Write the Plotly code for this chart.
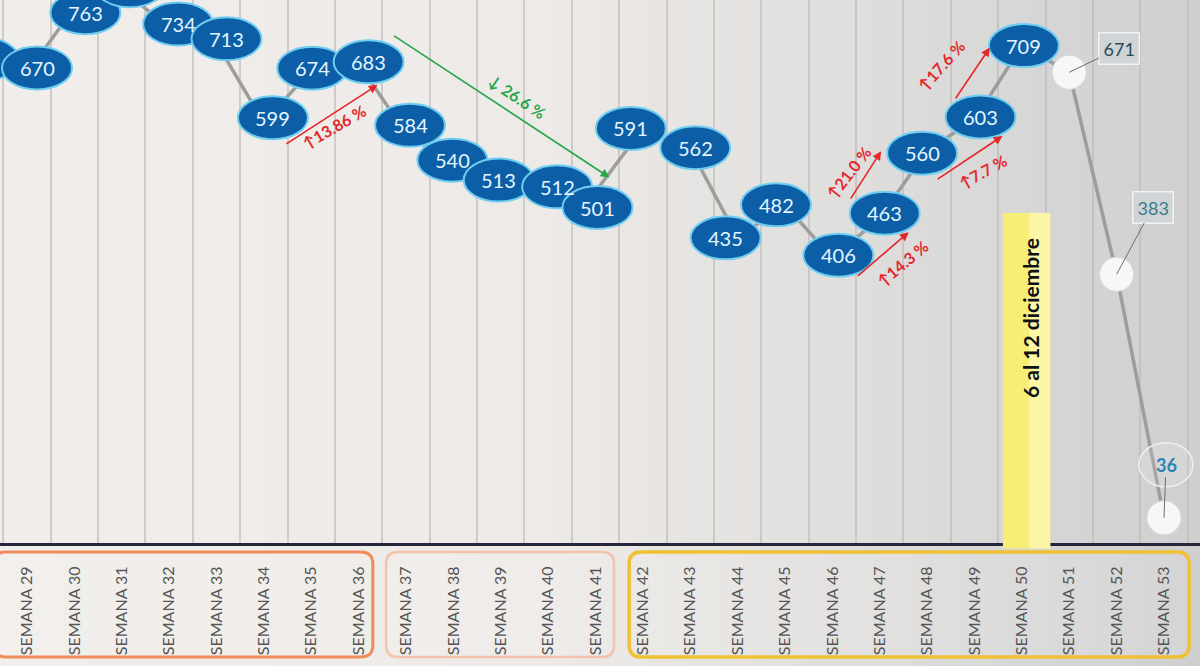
import plotly.graph_objects as go

# ---------------- DATA ----------------
week_numbers = [28, 29, 30, 31, 32, 33, 34, 35, 36, 37, 38, 39, 40,
                41, 42, 43, 44, 45, 46, 47, 48, 49, 50, 51, 52, 53]
week_labels = ["SEMANA %d" % n for n in week_numbers]
values = [684, 670, 763, 790, 734, 713, 599, 674, 683, 584, 540, 513, 512,
          501, 591, 562, 435, 482, 406, 463, 560, 603, 709, 671, 383, 36]

highlight_weeks = [51, 52, 53]          # white markers with boxed labels

arrow_from = [34, 36, 46, 47, 48, 49]
arrow_to = [36, 41, 47, 48, 49, 50]
arrow_text = ["13.86 %", "26.6 %", "14.3 %", "21.0 %", "7.7 %", "17.6 %"]

groups = [(29, 36), (37, 41), (42, 53)]   # boxed groups of tick labels
period_week = 50
period_text = "6 al 12 diciembre"

# ---------------- LAYOUT CONSTANTS ----------------
W, H = 1200, 666
MT, MB = 0, 123
PH = H - MT - MB
X0, X1 = 0.43, 25.76
Y0, Y1 = 0, 774
sx = W / (X1 - X0)
sy = PH / (Y1 - Y0)


def px(i):
    return (i - X0) * sx


def py(v):
    return PH - (v - Y0) * sy


idx = {w: k for k, w in enumerate(week_numbers)}
val = {w: v for w, v in zip(week_numbers, values)}

# label bubble offsets (pixels, dx right, dy down)
BUBBLE_OFFSETS = {
    28: (4, -4), 29: (10, -5), 30: (11, 5), 31: (8, -3), 32: (9, -4),
    33: (10, -4), 34: (9, -5), 35: (1, -2), 36: (10, -2), 37: (4, -8),
    38: (-1, -4), 39: (-2, -3), 40: (9, 3), 41: (2, 16), 42: (-12, 0),
    43: (5, -1), 44: (-12, 0), 45: (-9, 0), 46: (6, -3), 47: (5, -5),
    48: (-5, 3), 49: (6, -3), 50: (2, 0),
}
BUBBLE_W, BUBBLE_H = 70, 43

# arrow styling: tail offset (dx, dy down), head offset (dx, dy down),
# text shift (xshift, yshift up), text angle
ARROW_STYLE = {
    (34, 36): dict(tail=(21, 22), head=(19, 21), tshift=(23, -33), angle=-30),
    (36, 41): dict(tail=(34, -29), head=(14, -14), tshift=(40, 31), angle=34),
    (46, 47): dict(tail=(24, 19), head=(29, 14), tshift=(46, -25), angle=-40),
    (47, 48): dict(tail=(-30, -18), head=(-46, 1), tshift=(-55, 12), angle=-52),
    (48, 49): dict(tail=(9, 30), head=(28, 16), tshift=(32, -36), angle=-29),
    (49, 50): dict(tail=(-20, -20), head=(-32, 2), tshift=(-57, 17), angle=-48),
}

HL_LABEL = {
    51: dict(ax=50, ay=-24, color="#2d4955", box=True),
    52: dict(ax=36, ay=-67, color="#3c7b8c", box=True),
    53: dict(ax=2, ay=-53, color="#2a86b8", box=False),
}

GROUP_STYLE = [
    dict(pad_l=0.7, pad_r=0.30, line="#ef8d5a", width=3),
    dict(pad_l=0.42, pad_r=0.39, line="#f3c4ab", width=2.5),
    dict(pad_l=0.29, pad_r=0.53, line="#efc133", width=3.5),
]

FONT = "Lato, 'Open Sans', Arial, sans-serif"

fig = go.Figure()

# main line
fig.add_trace(go.Scatter(
    x=list(range(len(values))), y=values, mode="lines",
    line=dict(color="#9d9d9d", width=3.5), hoverinfo="skip", showlegend=False,
))

# white markers for last weeks
hl_idx = [idx[w] for w in highlight_weeks]
hl_val = [val[w] for w in highlight_weeks]
fig.add_trace(go.Scatter(
    x=hl_idx, y=hl_val, mode="markers",
    marker=dict(size=34, color="#f7f7f7", line=dict(color="#d9d9d9", width=1)),
    hoverinfo="skip", showlegend=False,
))

shapes = []

# background gradient
stops = [(0.0, (241, 237, 234)), (0.45, (237, 234, 231)), (0.65, (227, 225, 223)),
         (0.85, (215, 215, 215)), (1.0, (207, 207, 207))]


def grad(t):
    for (t0, c0), (t1, c1) in zip(stops[:-1], stops[1:]):
        if t0 <= t <= t1:
            f = (t - t0) / (t1 - t0)
            return "rgb(%d,%d,%d)" % tuple(round(a + (b - a) * f) for a, b in zip(c0, c1))
    return "rgb(%d,%d,%d)" % stops[-1][1]


N = 80
for k in range(N):
    shapes.append(dict(type="rect", xref="paper", yref="paper",
                       x0=k / N, x1=(k + 1) / N + 0.002, y0=-0.3, y1=1.05,
                       fillcolor=grad((k + 0.5) / N), line=dict(width=0), layer="below"))

# group boxes under tick labels (rounded)
ytop = -9 / PH
ybot = -114 / PH
rx = 12 / sx
ry = 12 / PH
for (g0, g1), st in zip(groups, GROUP_STYLE):
    xa = idx[g0] - st["pad_l"]
    xb = idx[g1] + st["pad_r"]
    path = (f"M {xa+rx},{ytop} L {xb-rx},{ytop} Q {xb},{ytop} {xb},{ytop-ry} "
            f"L {xb},{ybot+ry} Q {xb},{ybot} {xb-rx},{ybot} L {xa+rx},{ybot} "
            f"Q {xa},{ybot} {xa},{ybot+ry} L {xa},{ytop-ry} Q {xa},{ytop} {xa+rx},{ytop} Z")
    shapes.append(dict(type="path", xref="x", yref="paper", path=path,
                       fillcolor="rgba(255,255,255,0.12)",
                       line=dict(color=st["line"], width=st["width"]), layer="below"))

# yellow period box
pi = idx[period_week]
shapes.append(dict(type="rect", xref="x", yref="paper", x0=pi - 0.4, x1=pi + 0.6,
                   y0=-0.01, y1=(PH - 213) / PH, fillcolor="#f6ee76",
                   line=dict(width=0), layer="above"))
shapes.append(dict(type="rect", xref="x", yref="paper", x0=pi + 0.15, x1=pi + 0.6,
                   y0=-0.01, y1=(PH - 213) / PH, fillcolor="rgba(255,253,200,0.6)",
                   line=dict(width=0), layer="above"))

annotations = []

# blue bubbles (ellipse shape + text annotation)
for w in week_numbers:
    if w in highlight_weeks:
        continue
    dx, dy = BUBBLE_OFFSETS.get(w, (6, -3))
    shapes.append(dict(
        type="circle", xref="x", yref="y", xsizemode="pixel", ysizemode="pixel",
        xanchor=idx[w], yanchor=val[w],
        x0=dx - BUBBLE_W / 2, x1=dx + BUBBLE_W / 2,
        y0=-dy - BUBBLE_H / 2, y1=-dy + BUBBLE_H / 2,
        fillcolor="#0c5fa6", line=dict(color="#6fcdf0", width=2), layer="above",
    ))
    annotations.append(dict(x=idx[w], y=val[w], xref="x", yref="y",
                            xshift=dx, yshift=-dy, text=str(val[w]), showarrow=False,
                            borderpad=0,
                            font=dict(family=FONT, size=20, color="#e4f5ff")))

# ellipse around "36" label
w53 = highlight_weeks[-1]
shapes.append(dict(type="circle", xref="x", yref="y", xsizemode="pixel", ysizemode="pixel",
                   xanchor=idx[w53], yanchor=val[w53],
                   x0=HL_LABEL[w53]["ax"] - 27, x1=HL_LABEL[w53]["ax"] + 27,
                   y0=-HL_LABEL[w53]["ay"] - 22, y1=-HL_LABEL[w53]["ay"] + 22,
                   fillcolor="rgba(255,255,255,0.12)",
                   line=dict(color="#efefef", width=1.5), layer="above"))

# percentage arrows
for f, t, txt in zip(arrow_from, arrow_to, arrow_text):
    st = ARROW_STYLE[(f, t)]
    up = val[t] > val[f]
    color = "#e5262c" if up else "#25a64b"
    (tdx, tdy), (hdx, hdy) = st["tail"], st["head"]
    ax = (px(idx[f]) + tdx) - (px(idx[t]) + hdx)
    ay = (py(val[f]) + tdy) - (py(val[t]) + hdy)
    annotations.append(dict(x=idx[t], y=val[t], xref="x", yref="y",
                            xshift=hdx, yshift=-hdy, ax=ax, ay=ay,
                            axref="pixel", ayref="pixel", text="",
                            showarrow=True, arrowhead=2, arrowsize=1.1,
                            arrowwidth=1.6, arrowcolor=color, standoff=0))
    tsx, tsy = st["tshift"]
    annotations.append(dict(x=(idx[f] + idx[t]) / 2, y=(val[f] + val[t]) / 2,
                            xref="x", yref="y", xshift=tsx, yshift=tsy,
                            text=("↑" if up else "↓ ") + txt, showarrow=False,
                            textangle=st["angle"],
                            font=dict(family=FONT, size=16, color=color, weight="bold")))

# highlight labels
for w in highlight_weeks:
    s = HL_LABEL[w]
    a = dict(x=idx[w], y=val[w], xref="x", yref="y", text=str(val[w]),
             showarrow=True, arrowhead=0, arrowwidth=1, arrowcolor="#6e6e6e",
             ax=s["ax"], ay=s["ay"], standoff=0,
             font=dict(family=FONT, size=18, color=s["color"],
                       weight="bold" if not s["box"] else "normal"))
    if s["box"]:
        a.update(bgcolor="#cfd4d6", bordercolor="#f2f2f2", borderwidth=1.5, borderpad=4)
    annotations.append(a)

# period text
annotations.append(dict(x=pi + 0.17, y=(PH - 318) / PH, xref="x", yref="paper",
                        text=period_text, textangle=-90, showarrow=False,
                        font=dict(family=FONT, size=21, color="#111111", weight="bold")))

fig.update_layout(
    width=W, height=H,
    margin=dict(l=0, r=0, t=MT, b=MB, pad=0),
    paper_bgcolor="#e6e3e0", plot_bgcolor="rgba(0,0,0,0)",
    shapes=shapes, annotations=annotations, showlegend=False,
    xaxis=dict(type="category", range=[X0, X1], categoryorder="array",
               categoryarray=list(range(len(values))),
               tickmode="array", tickvals=list(range(len(values))), ticktext=week_labels,
               tickson="boundaries", showgrid=True, gridcolor="rgba(185,183,181,0.6)",
               gridwidth=2, ticks="", tickangle=-90, ticklabelstandoff=14,
               tickfont=dict(family=FONT, size=16, color="#555555"),
               showline=True, linecolor="#26263a", linewidth=3, zeroline=False,
               fixedrange=True),
    yaxis=dict(range=[Y0, Y1], visible=False, showgrid=False, zeroline=False,
               fixedrange=True),
)

fig.write_html("out.html", config={"displayModeBar": False},
               post_script="document.body.style.margin='0px';")
